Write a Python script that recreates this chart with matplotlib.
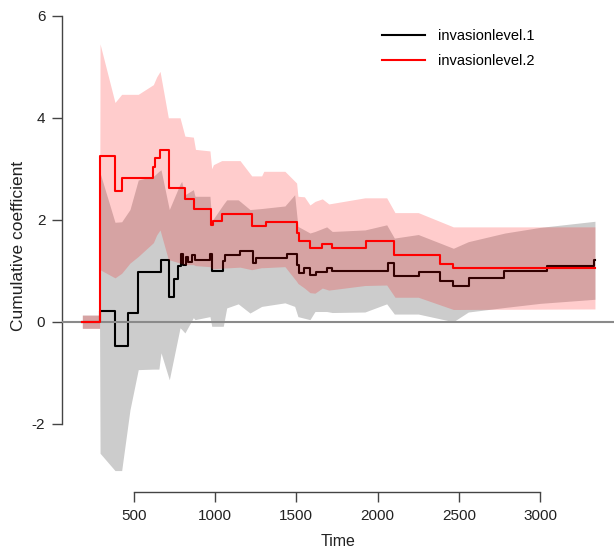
import matplotlib
matplotlib.use("Agg")
import matplotlib.pyplot as plt
import numpy as np

plt.rcParams['font.family'] = ['Liberation Sans', 'DejaVu Sans']
plt.rcParams['axes.unicode_minus'] = False

# step estimates (time, cumulative coefficient)
t1 = [184, 293, 385, 467, 528, 668, 719, 750, 772, 790, 805, 820, 835, 860, 880,
      969, 980, 1051, 1062, 1154, 1232, 1250, 1441, 1506, 1515, 1545, 1584, 1620,
      1687, 1721, 2062, 2103, 2257, 2384, 2466, 2562, 2779, 3040, 3333, 3340]
v1 = [0.0, 0.21, -0.47, 0.18, 0.97, 1.22, 0.48, 0.84, 1.10, 1.33, 1.12, 1.27, 1.18, 1.31, 1.22,
      1.33, 1.00, 1.20, 1.30, 1.38, 1.15, 1.25, 1.33, 1.12, 0.95, 1.06, 0.91, 0.97,
      1.05, 0.99, 1.16, 0.90, 0.97, 0.79, 0.71, 0.86, 1.00, 1.09, 1.22, 1.22]

t2 = [184, 293, 385, 426, 620, 631, 662, 719, 815, 871, 975, 985, 1041, 1229, 1314,
      1502, 1515, 1584, 1660, 1721, 1929, 2103, 2384, 2466, 3340]
v2 = [0.0, 3.26, 2.56, 2.82, 3.03, 3.21, 3.36, 2.62, 2.40, 2.21, 1.89, 1.98, 2.11, 1.87, 1.95,
      1.74, 1.58, 1.44, 1.53, 1.45, 1.58, 1.31, 1.14, 1.05, 1.05]

# confidence bands
b1_t = [184, 290, 293, 385, 426, 477, 528, 621, 655, 668, 719, 785, 795, 815, 867, 877,
        969, 980, 1051, 1072, 1143, 1215, 1287, 1430, 1490, 1510, 1584, 1615, 1687, 1721,
        1922, 2056, 2103, 2250, 2466, 2558, 2784, 3000, 3337]
b1_lo = [-0.13, -0.13, -2.58, -2.92, -2.92, -1.73, -0.94, -0.93, -0.93, -0.61, -1.14, -0.12,
         -0.15, -0.22, 0.08, 0.04, 0.10, -0.09, -0.09, 0.27, 0.35, 0.17, 0.30, 0.37, 0.30,
         0.10, 0.04, 0.20, 0.20, 0.18, 0.19, 0.35, 0.15, 0.15, 0.00, 0.19, 0.28, 0.36, 0.44]
b1_hi = [0.13, 0.13, 2.92, 1.95, 1.96, 2.20, 2.78, 2.85, 2.95, 2.98, 2.20, 2.70, 2.75, 2.49,
         2.59, 2.46, 2.46, 1.97, 2.30, 2.39, 2.39, 2.20, 2.22, 2.27, 2.49, 1.87, 1.74, 1.77,
         1.86, 1.77, 1.80, 1.90, 1.64, 1.71, 1.44, 1.57, 1.74, 1.85, 1.97]

b2_t = [184, 290, 293, 385, 426, 477, 528, 621, 641, 662, 713, 785, 815, 867, 880, 969,
        980, 990, 1041, 1154, 1226, 1287, 1300, 1430, 1502, 1510, 1550, 1584, 1615, 1660,
        1700, 1922, 2056, 2107, 2250, 2466, 3337]
b2_lo = [-0.13, -0.13, 1.02, 0.86, 0.95, 1.15, 1.28, 1.55, 1.70, 1.80, 1.22, 1.15, 1.12,
         1.12, 1.10, 1.08, 1.04, 1.04, 1.05, 1.07, 1.02, 1.06, 1.06, 1.08, 0.79, 0.75, 0.66,
         0.57, 0.56, 0.66, 0.62, 0.71, 0.72, 0.48, 0.48, 0.24, 0.25]
b2_hi = [0.13, 0.13, 5.45, 4.30, 4.46, 4.46, 4.46, 4.65, 4.80, 4.91, 4.00, 4.00, 3.64,
         3.62, 3.38, 3.35, 3.00, 3.08, 3.16, 3.16, 2.86, 2.86, 2.95, 2.95, 2.72, 2.46, 2.45,
         2.29, 2.36, 2.41, 2.31, 2.43, 2.43, 2.14, 2.14, 1.86, 1.86]

labels = ['invasionlevel.1', 'invasionlevel.2']

fig = plt.figure(figsize=(6.14, 5.48), dpi=100)
ax = fig.add_axes([62/614, 56/548, 552/614, 492/548])

ax.fill_between(b1_t, b1_lo, b1_hi, color='black', alpha=0.2, linewidth=0, zorder=1)
ax.plot(t1, v1, drawstyle='steps-post', color='black', lw=1.5, label=labels[0], zorder=2)
ax.fill_between(b2_t, b2_lo, b2_hi, color='red', alpha=0.2, linewidth=0, zorder=3)
ax.axhline(0, color='#8a8a8a', lw=1.5, zorder=4)
ax.plot(t2, v2, drawstyle='steps-post', color='red', lw=1.5, label=labels[1], zorder=5)

ax.set_xlim(59, 3454)
ax.set_ylim(-3.34, 6.31)

for s in ['top', 'right']:
    ax.spines[s].set_visible(False)
ax.spines['left'].set_bounds(-2, 6)
ax.spines['bottom'].set_bounds(500, 3000)
for s in ['left', 'bottom']:
    ax.spines[s].set_color('#444444')
    ax.spines[s].set_linewidth(1.0)

ax.set_xticks([500, 1000, 1500, 2000, 2500, 3000])
ax.set_yticks([-2, 0, 2, 4, 6])
ax.tick_params(direction='out', length=7, width=1.0, color='#444444',
               labelsize=11, labelcolor='#222222', pad=5)

ax.set_xlabel('Time', fontsize=11.5, color='#222222', labelpad=8)
ax.set_ylabel('Cumulative coefficient', fontsize=12.5, color='#222222', labelpad=4)

ax.legend(loc='upper left', bbox_to_anchor=(375/614, 1 - 22/548),
          bbox_transform=fig.transFigure, frameon=False, fontsize=10.5,
          handlelength=2.95, handletextpad=0.9, labelspacing=0.75, borderpad=0)

plt.savefig('out.png', dpi=100)
